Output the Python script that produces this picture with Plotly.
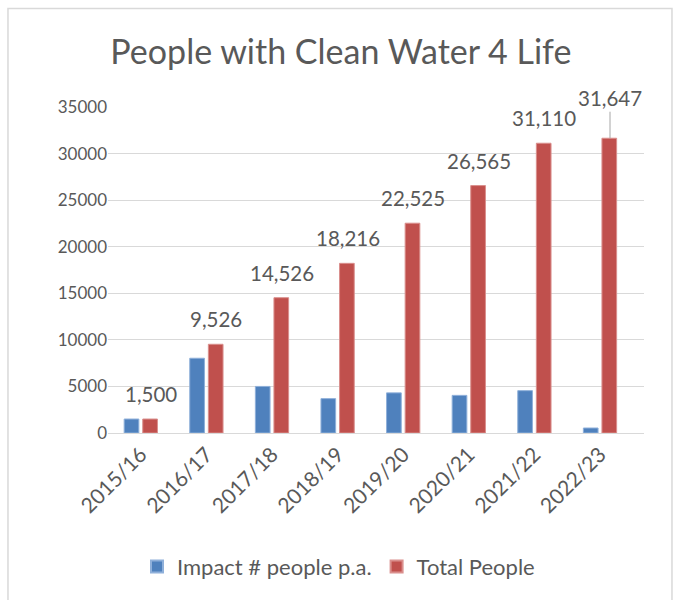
import plotly.graph_objects as go

categories = ["2015/16", "2016/17", "2017/18", "2018/19", "2019/20", "2020/21", "2021/22", "2022/23"]
impact_pa = [1500, 8026, 5000, 3690, 4309, 4040, 4545, 537]
total_people = [1500, 9526, 14526, 18216, 22525, 26565, 31110, 31647]
y_ticks = [0, 5000, 10000, 15000, 20000, 25000, 30000, 35000]

FONT = "Lato"
TXT = "#595959"
GRID = "#D9D9D9"

fig = go.Figure()
fig.add_trace(go.Bar(
    x=categories, y=impact_pa, name="Impact # people p.a.",
    marker=dict(color="#4F81BD", line=dict(color="#8FB0DA", width=1)),
    hoverinfo="skip",
))
fig.add_trace(go.Bar(
    x=categories, y=total_people, name="Total People",
    marker=dict(color="#C0504D", line=dict(color="#DA8F8D", width=1)),
    hoverinfo="skip",
))

annotations = []
for i, (c, v) in enumerate(zip(categories, total_people)):
    last = i == len(categories) - 1
    a = dict(
        x=c, y=v, xref="x", yref="y",
        text=f"{v:,}",
        font=dict(family=FONT, size=20.5, color=TXT),
        xshift=10,
    )
    if last:
        a.update(showarrow=True, ax=0, ay=-40, arrowhead=0, arrowwidth=1,
                 arrowcolor="#A6A6A6", standoff=0)
    else:
        a.update(showarrow=False, yshift=25)
    annotations.append(a)

fig.update_layout(
    width=675, height=600,
    paper_bgcolor="white", plot_bgcolor="white",
    margin=dict(l=108, r=31, t=107, b=165),
    barmode="group", bargap=0.433, bargroupgap=0.21,
    title=dict(text="People with Clean Water 4 Life", x=0.505, xref="container",
               y=0.913, yref="container", xanchor="center", yanchor="middle",
               font=dict(family=FONT, size=34, color=TXT)),
    font=dict(family=FONT, color=TXT),
    xaxis=dict(type="category", tickangle=-45, showgrid=False, showline=True,
               linecolor=GRID, linewidth=1, ticks="",
               tickfont=dict(family=FONT, size=21, color=TXT)),
    yaxis=dict(range=[0, 35000], tickvals=y_ticks, ticktext=[str(t) for t in y_ticks],
               showgrid=True, gridcolor=GRID, gridwidth=1, zeroline=False,
               showline=False, ticks="",
               tickfont=dict(family=FONT, size=17, color=TXT)),
    legend=dict(orientation="h", x=0.43, xanchor="center", y=-0.41, yanchor="middle",
                font=dict(family=FONT, size=22, color=TXT), itemsizing="constant",
                traceorder="normal"),
    annotations=annotations,
    shapes=[dict(type="rect", xref="paper", yref="paper",
                 x0=-0.1866, x1=1.0522, y0=-0.515, y1=1.3018,
                 line=dict(color="#D9D9D9", width=1.5), fillcolor="rgba(0,0,0,0)",
                 layer="below")],
)

fig.write_html(
    "out.html",
    config={"displayModeBar": False},
    post_script="document.body.style.margin='0';document.body.style.overflow='hidden';",
)
